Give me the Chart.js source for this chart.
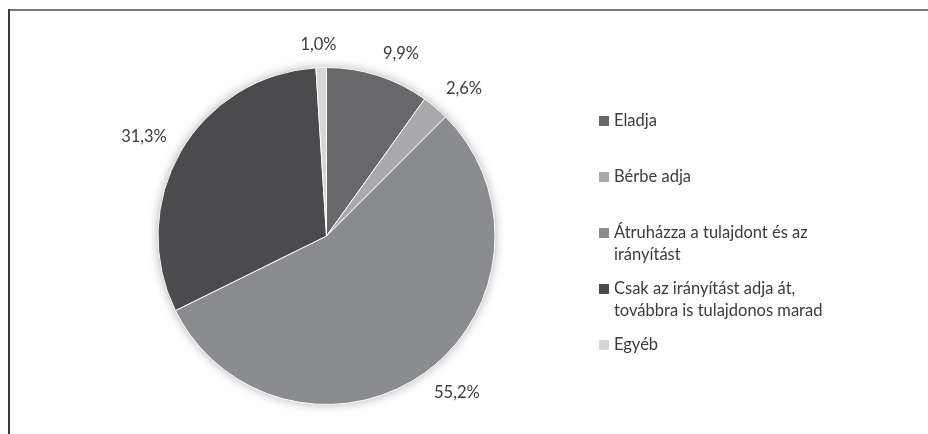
<!DOCTYPE html>
<html>
<head>
<meta charset="utf-8">
<script src="https://cdn.jsdelivr.net/npm/chart.js@4/dist/chart.umd.min.js"></script>
<style>
  html, body { margin: 0; padding: 0; background: #ffffff; }
  #wrap { position: relative; width: 928px; height: 434px; }
  canvas { display: block; }
</style>
</head>
<body>
<div id="wrap"><canvas id="c" width="928" height="434"></canvas></div>
<script>
// ---- data ----
const categories = [
  ['Eladja'],
  ['Bérbe adja'],
  ['Átruházza a tulajdont és az', 'irányítást'],
  ['Csak az irányítást adja át,', 'továbbra is tulajdonos marad'],
  ['Egyéb']
];
const shares = [9.9, 2.6, 55.2, 31.3, 1.0];
const sliceColors = ['#68686b', '#a9a9ab', '#8b8c90', '#4b4b4d', '#d6d6d6'];

const FONT = 'Lato, "Open Sans", sans-serif';
const FONT_SIZE = 16.5;
const TEXT_COLOR = '#3c3c3c';

function fmt(v) { return v.toFixed(1).replace('.', ',') + '%'; }
function soft(t) { return Math.max(-1, Math.min(1, t / 0.25)); }

// frame lines
const framePlugin = {
  id: 'frame',
  beforeDraw(chart) {
    const ctx = chart.ctx;
    ctx.save();
    ctx.fillStyle = '#ffffff';
    ctx.fillRect(0, 0, chart.width, chart.height);
    ctx.lineWidth = 2;
    ctx.strokeStyle = '#7a7a7a';
    ctx.beginPath(); ctx.moveTo(8, 10); ctx.lineTo(chart.width, 10); ctx.stroke();
    ctx.strokeStyle = '#3a3a3a';
    ctx.beginPath(); ctx.moveTo(9, 9); ctx.lineTo(9, chart.height); ctx.stroke();
    ctx.restore();
  }
};

// soft shadow under the pie
const shadowPlugin = {
  id: 'pieShadow',
  beforeDatasetsDraw(chart) {
    const arc = chart.getDatasetMeta(0).data[0];
    if (!arc) return;
    const ctx = chart.ctx;
    ctx.save();
    ctx.shadowColor = 'rgba(0,0,0,0.35)';
    ctx.shadowBlur = 11;
    ctx.fillStyle = '#888888';
    ctx.beginPath();
    ctx.arc(arc.x, arc.y, arc.outerRadius - 0.5, 0, Math.PI * 2);
    ctx.fill();
    ctx.restore();
  }
};

// outside percentage labels
const labelPlugin = {
  id: 'outLabels',
  afterDatasetsDraw(chart) {
    const ctx = chart.ctx;
    const meta = chart.getDatasetMeta(0);
    const values = chart.data.datasets[0].data;
    ctx.save();
    ctx.font = FONT_SIZE + 'px ' + FONT;
    ctx.fillStyle = TEXT_COLOR;
    ctx.textAlign = 'center';
    ctx.textBaseline = 'middle';
    meta.data.forEach((arc, i) => {
      const p = arc.getProps(['x', 'y', 'startAngle', 'endAngle', 'outerRadius'], true);
      const mid = (p.startAngle + p.endAngle) / 2;
      const dx = Math.cos(mid), dy = Math.sin(mid);
      const txt = fmt(values[i]);
      const hw = ctx.measureText(txt).width / 2, hh = 7, gap = 16;
      const ex = p.x + dx * p.outerRadius, ey = p.y + dy * p.outerRadius;
      ctx.fillText(txt, ex + dx * gap + hw * soft(dx), ey + dy * gap + hh * soft(dy));
    });
    ctx.restore();
  }
};

// legend on the right
const legendPlugin = {
  id: 'sideLegend',
  afterDraw(chart) {
    const ctx = chart.ctx;
    const colors = chart.data.datasets[0].backgroundColor;
    const x0 = 599, top = 121, step = 56, lineH = 22, box = 10;
    ctx.save();
    ctx.font = FONT_SIZE + 'px ' + FONT;
    ctx.textBaseline = 'middle';
    ctx.textAlign = 'left';
    chart.data.labels.forEach((lines, i) => {
      const y = top + step * i;
      ctx.fillStyle = colors[i];
      ctx.fillRect(x0, y - box / 2, box, box);
      ctx.fillStyle = TEXT_COLOR;
      lines.forEach((ln, j) => ctx.fillText(ln, x0 + 15, y + j * lineH));
    });
    ctx.restore();
  }
};

new Chart(document.getElementById('c'), {
  type: 'pie',
  data: {
    labels: categories,
    datasets: [{
      data: shares,
      backgroundColor: sliceColors,
      borderColor: '#ffffff',
      borderWidth: 1
    }]
  },
  options: {
    responsive: false,
    animation: false,
    layout: { padding: { left: 157.5, right: 432.5, top: 67, bottom: 29 } },
    plugins: {
      legend: { display: false },
      tooltip: { enabled: false }
    }
  },
  plugins: [framePlugin, shadowPlugin, labelPlugin, legendPlugin]
});
</script>
</body>
</html>
